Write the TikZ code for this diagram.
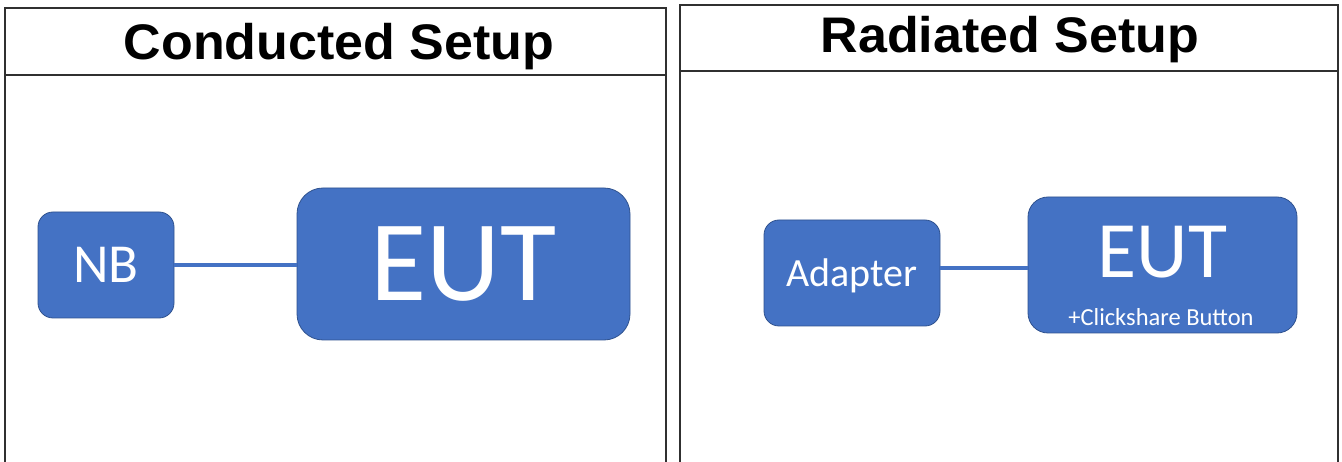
\documentclass[tikz,border=0pt]{standalone}
\usepackage{fontspec}
\setmainfont{Liberation Sans}
\newfontfamily\calib{Carlito}
\definecolor{boxblue}{HTML}{4472C4}
\definecolor{boxedge}{HTML}{2F528F}
\definecolor{frame}{HTML}{303030}
\begin{document}
\begin{tikzpicture}[x=1pt,y=-1pt,
  panel/.style={draw=frame,line width=1.5pt},
  bluebox/.style={draw=boxedge,fill=boxblue,line width=0.8pt,text=white,inner sep=0pt,font=\calib},
  title/.style={font=\fontsize{50}{54}\selectfont\bfseries,inner sep=0pt,anchor=base,xscale=1.04},
  link/.style={draw=boxblue,line width=3.5pt}]
\useasboundingbox (0,0) rectangle (1342,462);
\fill[white] (0,0) rectangle (1342,462);
% left panel
\draw[panel] (5,470) -- (5,8) -- (666,8) -- (666,470);
\draw[panel] (5,75) -- (666,75);
\node[title] (t1) at (339,60) {Conducted Setup};
% right panel
\draw[panel] (680,470) -- (680,5) -- (1338,5) -- (1338,470);
\draw[panel] (680,71) -- (1338,71);
\node[title] (t2) at (1010,53) {Radiated Setup};
% conducted nodes
\node[bluebox,rounded corners=15pt,minimum width=136pt,minimum height=106pt] (nb) at (106,265)
  {\fontsize{55}{60}\selectfont NB};
\node[bluebox,rounded corners=26pt,minimum width=333pt,minimum height=152pt] (eut1) at (463.5,264)
  {\fontsize{115}{120}\selectfont EUT};
\draw[link] (nb.east) -- (nb.east -| eut1.west);
% radiated nodes
\node[bluebox,rounded corners=15pt,minimum width=176pt,minimum height=106pt] (ad) at (852,273) {};
\node[text=white,font=\calib\fontsize{40}{44}\selectfont,inner sep=0pt,anchor=base] (adt) at (852,287) {Adapter};
\node[bluebox,rounded corners=20pt,minimum width=269pt,minimum height=136pt] (eut2) at (1162.5,265) {};
\node[text=white,font=\calib\fontsize{80}{84}\selectfont,inner sep=0pt] (eutt) at (1162.5,252) {EUT};
\node[text=white,font=\calib\fontsize{24.5}{26}\selectfont,inner sep=0pt] (cb) at (1161,317) {+Clickshare Button};
\draw[link] (ad.east |- 0,268) coordinate (a1) -- (eut2.west |- 0,268) coordinate (a2);
\end{tikzpicture}
\end{document}
